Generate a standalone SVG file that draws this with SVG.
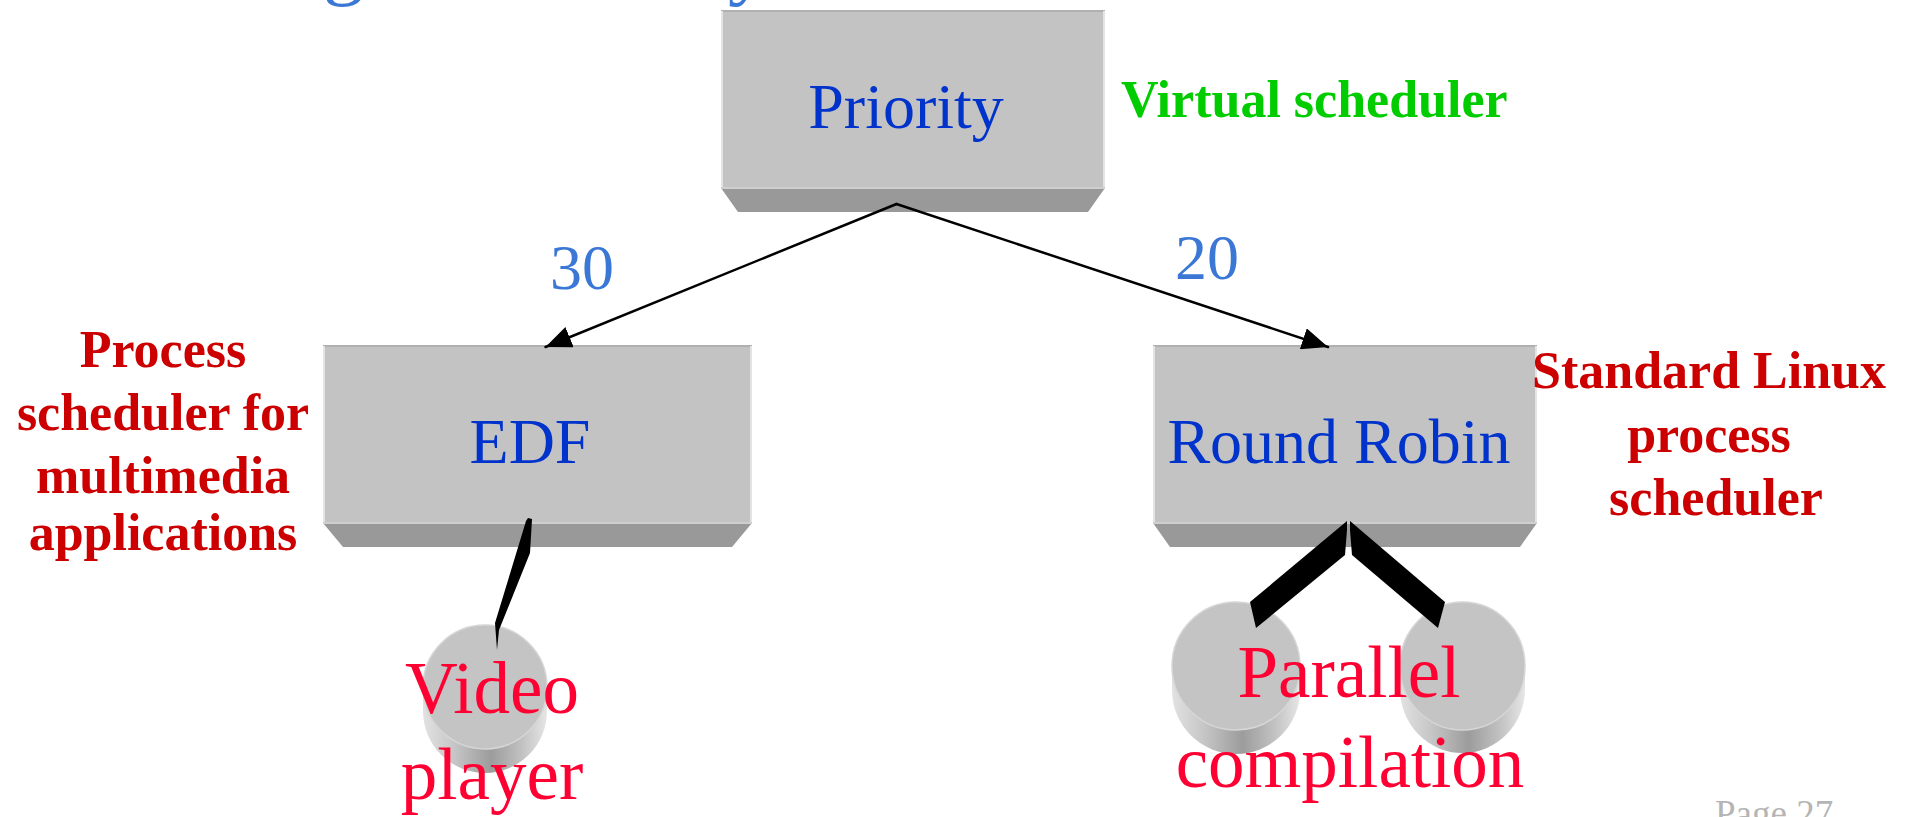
<svg xmlns="http://www.w3.org/2000/svg" width="1908" height="817" viewBox="0 0 1908 817">
  <defs>
    <style>
      .face { fill: #c3c3c3; }
      .bevel { fill: #999999; }
      .rimTop { stroke: #b0b0b0; stroke-width: 2; }
      .rimSide { stroke: #e4e4e4; stroke-width: 2; }
      .rimLow { stroke: #cfcfcf; stroke-width: 2; }
      .node { font-family: "Liberation Serif", "Times New Roman", serif; font-size: 64px; fill: #0033cc; text-anchor: middle; }
      .weight { font-family: "Liberation Serif", "Times New Roman", serif; font-size: 64px; fill: #3b78d6; }
      .task { font-family: "Liberation Serif", "Times New Roman", serif; font-size: 73px; fill: #ff0033; text-anchor: middle; }
      .note { font-family: "Liberation Serif", "Times New Roman", serif; font-size: 52px; font-weight: bold; fill: #cc0000; text-anchor: middle; }
      .virt { font-family: "Liberation Serif", "Times New Roman", serif; font-size: 52px; font-weight: bold; fill: #00cc00; }
      .title { font-family: "Liberation Serif", "Times New Roman", serif; font-size: 82px; fill: #3b78d6; }
      .page { font-family: "Liberation Serif", "Times New Roman", serif; font-size: 37px; fill: #b5b5b5; }
      .edge { stroke: #000000; stroke-width: 2.5; stroke-linecap: round; fill: none; marker-end: url(#arrow); }
      .thick { fill: #000000; }
      .diskTop { fill: #c4c4c4; stroke: #d6d6d6; stroke-width: 1.5; }
    </style>
    <marker id="arrow" markerUnits="userSpaceOnUse" markerWidth="26" markerHeight="22" refX="26" refY="11" orient="auto">
      <path d="M0,0 L26,11 L0,22 Z" fill="#000000"/>
    </marker>
    <linearGradient id="diskSide" x1="0" y1="0" x2="1" y2="0">
      <stop offset="0" stop-color="#e2e2e2"/>
      <stop offset="0.25" stop-color="#c6c6c6"/>
      <stop offset="0.55" stop-color="#9c9c9c"/>
      <stop offset="0.8" stop-color="#c2c2c2"/>
      <stop offset="1" stop-color="#e6e6e6"/>
    </linearGradient>
  </defs>

  <rect x="0" y="0" width="1908" height="817" fill="#ffffff"/>

  <!-- heading, mostly above the top edge -->
  <g id="heading">
    <text class="title" x="323" y="-11">g</text>
    <text class="title" x="728" y="-11">y</text>
  </g>

  <!-- scheduler nodes -->
  <g id="node-priority">
    <polygon class="bevel" points="721,188 1105,188 1088,212 738,212"/>
    <rect class="face" x="721" y="11" width="384" height="177"/>
    <line class="rimTop" x1="721" y1="11" x2="1105" y2="11"/>
    <line class="rimSide" x1="722" y1="11" x2="722" y2="188"/>
    <line class="rimSide" x1="1104" y1="11" x2="1104" y2="188"/>
    <line class="rimLow" x1="721" y1="188" x2="1105" y2="188"/>
    <text class="node" x="906" y="128">Priority</text>
  </g>

  <g id="node-edf">
    <polygon class="bevel" points="323,523 752,523 732,547 343,547"/>
    <rect class="face" x="323" y="346" width="429" height="177"/>
    <line class="rimTop" x1="323" y1="346" x2="752" y2="346"/>
    <line class="rimSide" x1="324" y1="346" x2="324" y2="523"/>
    <line class="rimSide" x1="751" y1="346" x2="751" y2="523"/>
    <line class="rimLow" x1="323" y1="523" x2="752" y2="523"/>
    <text class="node" x="530" y="463">EDF</text>
  </g>

  <g id="node-rr">
    <polygon class="bevel" points="1153,523 1537,523 1520,547 1170,547"/>
    <rect class="face" x="1153" y="346" width="384" height="177"/>
    <line class="rimTop" x1="1153" y1="346" x2="1537" y2="346"/>
    <line class="rimSide" x1="1154" y1="346" x2="1154" y2="523"/>
    <line class="rimSide" x1="1536" y1="346" x2="1536" y2="523"/>
    <line class="rimLow" x1="1153" y1="523" x2="1537" y2="523"/>
    <text class="node" x="1339" y="463">Round Robin</text>
  </g>

  <!-- task disks -->
  <g id="disk-video">
    <path d="M423,687 L423,711 A62,62 0 0 0 547,711 L547,687 Z" fill="url(#diskSide)"/>
    <ellipse class="diskTop" cx="485" cy="687" rx="62" ry="62"/>
  </g>

  <g id="disk-compile-1">
    <path d="M1172,666 L1172,690 A64,64 0 0 0 1300,690 L1300,666 Z" fill="url(#diskSide)"/>
    <ellipse class="diskTop" cx="1236" cy="666" rx="64" ry="64"/>
  </g>

  <g id="disk-compile-2">
    <path d="M1400,666 L1400,689 A62.5,64 0 0 0 1525,689 L1525,666 Z" fill="url(#diskSide)"/>
    <ellipse class="diskTop" cx="1462.5" cy="666" rx="62.5" ry="64"/>
  </g>

  <!-- connectors, drawn over the boxes and disks -->
  <g id="connectors">
    <line class="edge" x1="896.5" y1="204" x2="545.5" y2="347"/>
    <line class="edge" x1="896.5" y1="204" x2="1328" y2="347"/>
    <polygon class="thick" points="528,518 532,519 530,553 499,630 497,650 495,623 526,521"/>
    <polygon class="thick" points="1347,521 1250,602 1256,628 1345,555 1347,530"/>
    <polygon class="thick" points="1350,521 1445,602 1438,628 1352,555 1350,530"/>
  </g>

  <!-- edge weights -->
  <g id="weights">
    <text class="weight" x="550" y="289">30</text>
    <text class="weight" x="1175" y="279">20</text>
  </g>

  <!-- task labels -->
  <g id="label-video">
    <text class="task" x="492" y="713">Video</text>
    <text class="task" x="492" y="799">player</text>
  </g>

  <g id="label-compile">
    <text class="task" x="1349" y="697">Parallel</text>
    <text class="task" x="1350" y="787">compilation</text>
  </g>

  <!-- annotations -->
  <g id="note-virtual">
    <text class="virt" x="1121" y="117">Virtual scheduler</text>
  </g>

  <g id="note-multimedia">
    <text class="note" x="163" y="367">Process</text>
    <text class="note" x="163" y="430">scheduler for</text>
    <text class="note" x="163" y="493">multimedia</text>
    <text class="note" x="163" y="550">applications</text>
  </g>

  <g id="note-linux">
    <text class="note" x="1709" y="388">Standard Linux</text>
    <text class="note" x="1709" y="452">process</text>
    <text class="note" x="1716" y="515">scheduler</text>
  </g>

  <g id="footer">
    <text class="page" x="1715" y="826">Page 27</text>
  </g>
</svg>
